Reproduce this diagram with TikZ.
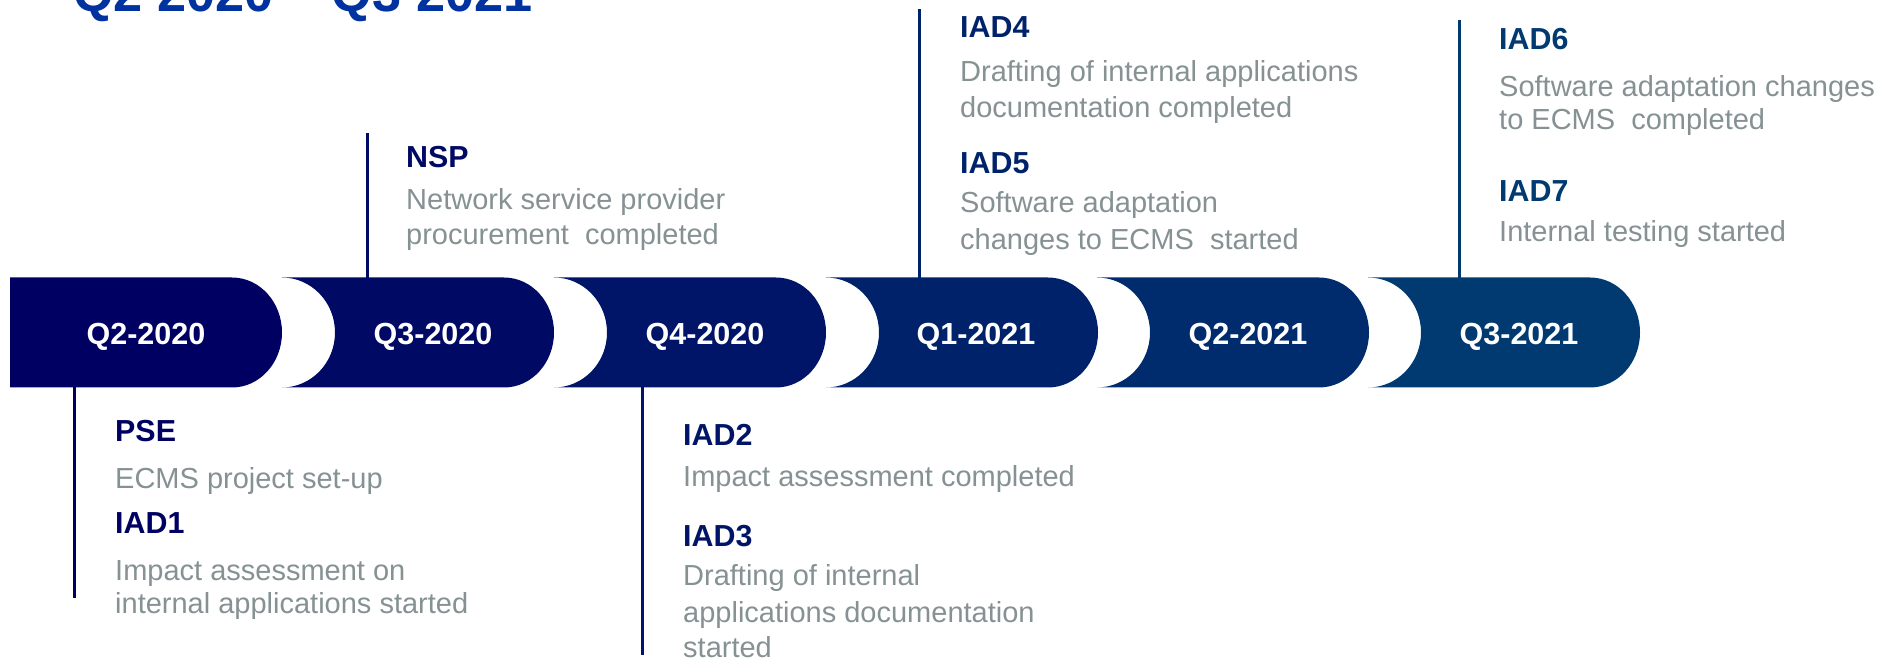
\documentclass[tikz,border=0pt]{standalone}
\usepackage{fontspec}
\setmainfont{Liberation Sans}
\definecolor{c1}{HTML}{000062}
\definecolor{c2}{HTML}{000A65}
\definecolor{c3}{HTML}{001567}
\definecolor{c4}{HTML}{00226B}
\definecolor{c5}{HTML}{002B6D}
\definecolor{c6}{HTML}{003A71}
\definecolor{titleblue}{HTML}{0033A0}
\definecolor{greytext}{HTML}{859192}
\tikzset{
  lbl/.style={anchor=base west, inner sep=0pt, font=\fontsize{30.4}{34}\selectfont\bfseries},
  desc/.style={anchor=base west, inner sep=0pt, text=greytext, font=\fontsize{29}{33}\selectfont},
  qlabel/.style={anchor=base, inner sep=0pt, text=white, font=\fontsize{30.5}{34}\selectfont\bfseries},
  stem/.style={line width=3pt},
  endarc/.style={start angle=90, end angle=-90, x radius=50pt, y radius=55pt},
  bitearc/.style={start angle=-90, end angle=90, x radius=53pt, y radius=55pt}
}
\begin{document}
\begin{tikzpicture}[x=1pt,y=1pt]
\useasboundingbox (0,0) rectangle (1879,659);
% title (clipped by page top)
\node[anchor=base west, inner sep=0pt, text=titleblue, font=\fontsize{52.3}{56}\selectfont\bfseries] (title) at (73,647) {Q2 2020 – Q3 2021};
% quarter shapes
\fill[c1] (10,381.5) -- (232,381.5) arc[endarc] -- (10,271.5) -- cycle;
\fill[c2] (282,381.5) -- (504,381.5) arc[endarc] -- (282,271.5) arc[bitearc] -- cycle;
\fill[c3] (554,381.5) -- (776,381.5) arc[endarc] -- (554,271.5) arc[bitearc] -- cycle;
\fill[c4] (826,381.5) -- (1048,381.5) arc[endarc] -- (826,271.5) arc[bitearc] -- cycle;
\fill[c5] (1097,381.5) -- (1319,381.5) arc[endarc] -- (1097,271.5) arc[bitearc] -- cycle;
\fill[c6] (1368,381.5) -- (1590,381.5) arc[endarc] -- (1368,271.5) arc[bitearc] -- cycle;
% quarter labels
\node[qlabel] (q1) at (146,314) {Q2-2020};
\node[qlabel] (q2) at (433,314) {Q3-2020};
\node[qlabel] (q3) at (705,314) {Q4-2020};
\node[qlabel] (q4) at (976,314) {Q1-2021};
\node[qlabel] (q5) at (1248,314) {Q2-2021};
\node[qlabel] (q6) at (1519,314) {Q3-2021};
% stems
\coordinate (s1a) at (74,272); \coordinate (s1b) at (74,61);
\coordinate (s2a) at (367,381); \coordinate (s2b) at (367,526);
\coordinate (s3a) at (642,272); \coordinate (s3b) at (642,4);
\coordinate (s4a) at (919,381); \coordinate (s4b) at (919,650);
\coordinate (s6a) at (1459,381); \coordinate (s6b) at (1459,639);
\draw[stem, c1] (s1a) -- (s1b);
\draw[stem, c2] (s2a) -- (s2b);
\draw[stem, c3] (s3a) -- (s3b);
\draw[stem, c4] (s4a) -- (s4b);
\draw[stem, c6] (s6a) -- (s6b);
% Q2-2020 texts
\node[lbl, text=c1] (pse) at (115,217) {PSE};
\node[desc] (pse1) at (115,171) {ECMS project set-up};
\node[lbl, text=c1] (iad1) at (115,126) {IAD1};
\node[desc] (iad1a) at (115,79) {Impact assessment on};
\node[desc] (iad1b) at (115,46) {internal applications started};
% Q3-2020 texts
\node[lbl, text=c2] (nsp) at (406,491) {NSP};
\node[desc] (nsp1) at (406,449) {Network service provider};
\node[desc] (nsp2) at (406,414) {procurement\ \ completed};
% Q4-2020 texts
\node[lbl, text=c3] (iad2) at (683,213) {IAD2};
\node[desc] (iad2a) at (683,172) {Impact assessment completed};
\node[lbl, text=c3] (iad3) at (683,113) {IAD3};
\node[desc] (iad3a) at (683,74) {Drafting of internal};
\node[desc] (iad3b) at (683,37) {applications documentation};
\node[desc] (iad3c) at (683,2) {started};
% Q1-2021 texts
\node[lbl, text=c4] (iad4) at (960,621) {IAD4};
\node[desc] (iad4a) at (960,577) {Drafting of internal applications};
\node[desc] (iad4b) at (960,541) {documentation completed};
\node[lbl, text=c4] (iad5) at (960,485) {IAD5};
\node[desc] (iad5a) at (960,446) {Software adaptation};
\node[desc] (iad5b) at (960,409) {changes to ECMS\ \ started};
% Q3-2021 texts
\node[lbl, text=c6] (iad6) at (1499,609) {IAD6};
\node[desc] (iad6a) at (1499,562) {Software adaptation changes};
\node[desc] (iad6b) at (1499,529) {to ECMS\ \ completed};
\node[lbl, text=c6] (iad7) at (1499,457) {IAD7};
\node[desc] (iad7a) at (1499,417) {Internal testing started};
\end{tikzpicture}
\end{document}
